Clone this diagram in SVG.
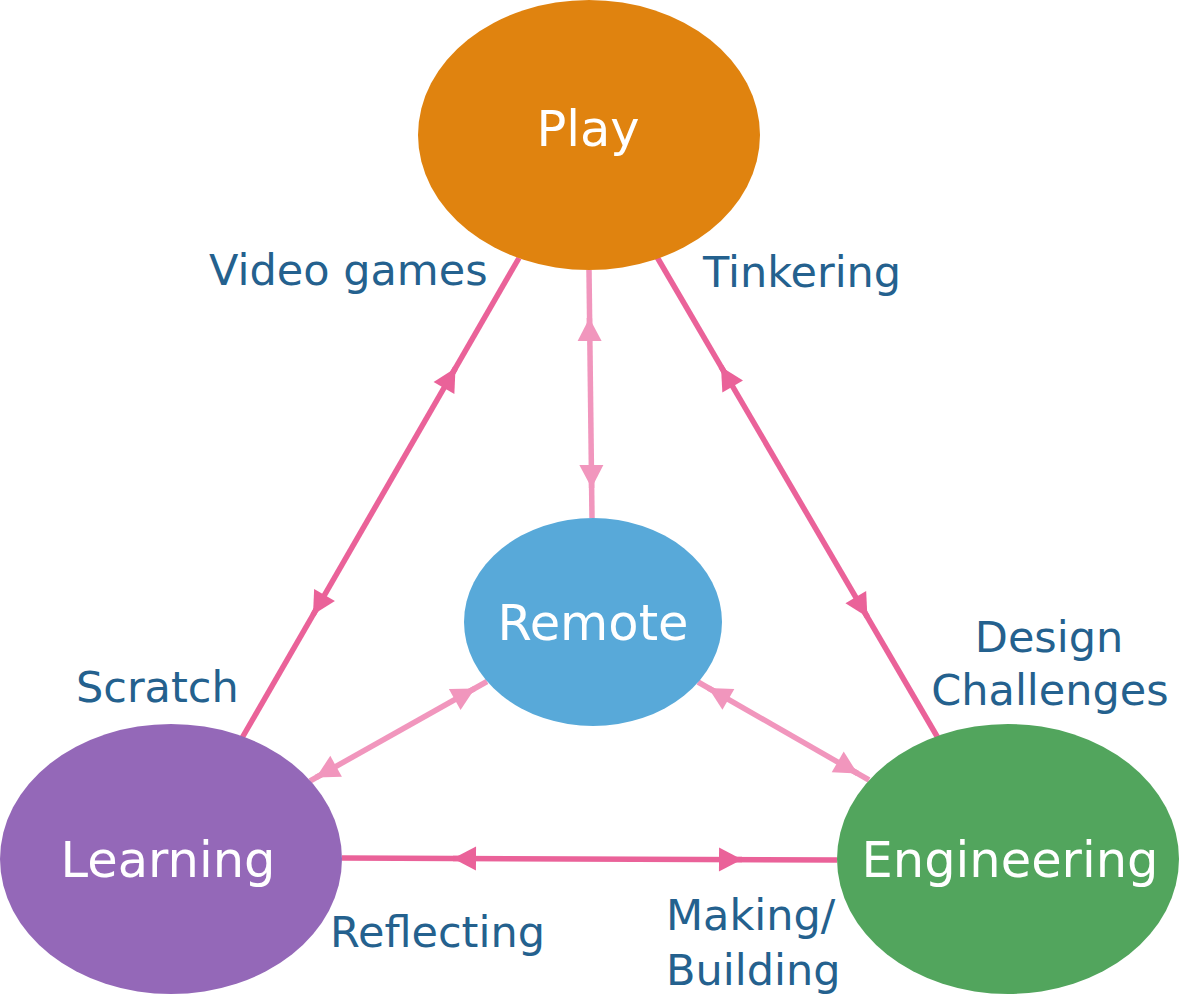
<svg xmlns="http://www.w3.org/2000/svg" width="1180" height="995" viewBox="0 0 1180 995">
  <style>
    .node-label { font-family: "DejaVu Sans", Verdana, sans-serif; font-size: 49.5px; fill: #ffffff; text-anchor: middle; }
    .edge-label { font-family: "DejaVu Sans", Verdana, sans-serif; font-size: 43px; fill: #24618E; }
    .strong { stroke: #EA6299; stroke-width: 5.5; fill: none; }
    .soft { stroke: #F196BD; stroke-width: 5.5; fill: none; }
  </style>
  <defs>
    <marker id="arrow-strong" viewBox="-26 -13 28 26" refX="0" refY="0" markerWidth="28" markerHeight="26" markerUnits="userSpaceOnUse" orient="auto">
      <path d="M0,0 L-23,-12 L-23,12 Z" fill="#EA6299"/>
    </marker>
    <marker id="arrow-soft" viewBox="-26 -13 28 26" refX="0" refY="0" markerWidth="28" markerHeight="26" markerUnits="userSpaceOnUse" orient="auto">
      <path d="M0,0 L-23,-12 L-23,12 Z" fill="#F196BD"/>
    </marker>
  </defs>

  <rect width="1180" height="995" fill="#ffffff"/>

  <g id="connectors">
    <!-- Play - Learning -->
    <line class="strong" x1="519" y1="258" x2="242" y2="738"/>
    <path class="strong" d="M444.5,387 L455.5,368" marker-end="url(#arrow-strong)"/>
    <path class="strong" d="M324,595.8 L313,614.8" marker-end="url(#arrow-strong)"/>
    <!-- Play - Engineering -->
    <line class="strong" x1="657" y1="257" x2="938" y2="738"/>
    <path class="strong" d="M732.2,385.7 L721,366.7" marker-end="url(#arrow-strong)"/>
    <path class="strong" d="M856.3,598 L867.4,617" marker-end="url(#arrow-strong)"/>
    <!-- Play - Remote -->
    <line class="soft" x1="589" y1="270" x2="592" y2="518"/>
    <path class="soft" d="M589.6,338 L589.4,318" marker-end="url(#arrow-soft)"/>
    <path class="soft" d="M591.4,468 L591.6,488" marker-end="url(#arrow-soft)"/>
    <!-- Remote - Learning -->
    <line class="soft" x1="487" y1="681.5" x2="310" y2="781"/>
    <path class="soft" d="M455.6,699.1 L474.8,688.4" marker-end="url(#arrow-soft)"/>
    <path class="soft" d="M335.3,766.8 L316,777.5" marker-end="url(#arrow-soft)"/>
    <!-- Remote - Engineering -->
    <line class="soft" x1="698" y1="682" x2="869" y2="780"/>
    <path class="soft" d="M727.5,698.9 L708.4,688" marker-end="url(#arrow-soft)"/>
    <path class="soft" d="M838.6,762.5 L857.6,773.5" marker-end="url(#arrow-soft)"/>
    <!-- Learning - Engineering -->
    <line class="strong" x1="342" y1="858" x2="837" y2="860"/>
    <path class="strong" d="M475,858.5 L453,858.4" marker-end="url(#arrow-strong)"/>
    <path class="strong" d="M720,859.5 L742,859.6" marker-end="url(#arrow-strong)"/>
  </g>

  <g id="node-play">
    <ellipse cx="589" cy="135" rx="171" ry="135" fill="#E0830F"/>
    <text class="node-label" x="588" y="146">Play</text>
  </g>
  <g id="node-remote">
    <ellipse cx="593" cy="622" rx="129" ry="104" fill="#58A9D9"/>
    <text class="node-label" x="593" y="640">Remote</text>
  </g>
  <g id="node-learning">
    <ellipse cx="171" cy="859" rx="171" ry="135" fill="#9468B8"/>
    <text class="node-label" x="168" y="877">Learning</text>
  </g>
  <g id="node-engineering">
    <ellipse cx="1008" cy="859" rx="171" ry="135" fill="#52A55D"/>
    <text class="node-label" x="1010" y="877">Engineering</text>
  </g>

  <g id="edge-labels">
    <text class="edge-label" x="209" y="285">Video games</text>
    <text class="edge-label" x="703" y="287">Tinkering</text>
    <text class="edge-label" x="76" y="702">Scratch</text>
    <text class="edge-label" x="1049" y="652" text-anchor="middle">Design</text>
    <text class="edge-label" x="1050" y="705" text-anchor="middle">Challenges</text>
    <text class="edge-label" x="330" y="947">Reflecting</text>
    <text class="edge-label" x="666" y="930">Making/</text>
    <text class="edge-label" x="666" y="985">Building</text>
  </g>
</svg>
